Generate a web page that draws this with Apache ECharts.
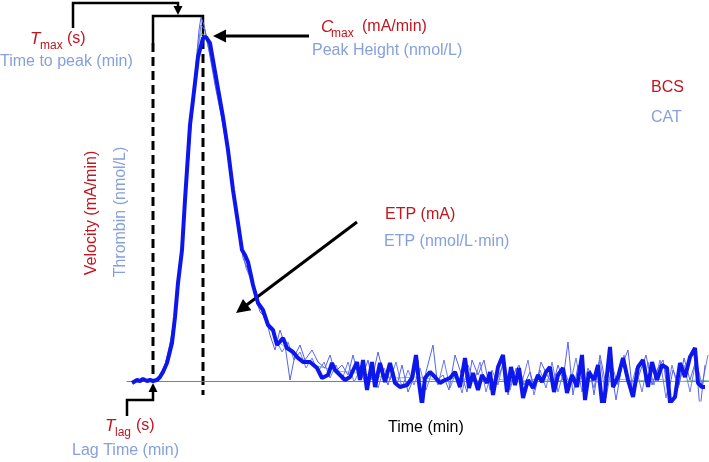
<!DOCTYPE html>
<html>
<head>
<meta charset="utf-8">
<script src="https://cdn.jsdelivr.net/npm/echarts@6/dist/echarts.min.js"></script>
<style>
  html, body { margin: 0; padding: 0; background: #fff; }
  #chart { width: 709px; height: 462px; }
</style>
</head>
<body>
<div id="chart"></div>
<script>
// x = sample index along the time axis, y = signal above baseline
const mainTrace = [
  [5, -2], [10, 1], [13, 0], [16, 2], [20, 0], [23, 1], [26, 0], [30, 1], [33, 4], [36, 9],
  [40, 18], [45, 38], [48, 64], [51, 98], [55, 131], [58, 181], [61, 226], [63, 256], [66, 281],
  [71, 324], [76, 343], [79, 344], [83, 338], [90, 298], [96, 264], [101, 231], [106, 191],
  [111, 158], [115, 131], [118, 126], [121, 119], [126, 96], [131, 78], [136, 71], [141, 56],
  [146, 51], [150, 36], [156, 43], [160, 33], [166, 29], [171, 23], [176, 19], [183, 19],
  [190, 13], [195, 3], [201, 6], [205, 18], [208, 11], [213, 6], [218, 1], [223, 4], [230, 19],
  [233, 1], [236, 21], [240, -9], [245, 19], [248, -6], [253, 18], [258, -1], [263, 18],
  [268, -2], [273, -6], [280, -4], [285, 3], [289, 26], [292, -2], [295, -24], [298, 3],
  [303, 9], [308, 4], [313, -2], [318, 1], [323, 3], [328, 9], [333, -6], [338, 23], [342, -7],
  [346, 8], [351, -9], [355, 6], [360, -2], [363, 9], [366, -14], [371, 14], [376, 26],
  [380, -11], [384, 14], [388, -4], [392, 13], [396, -17], [401, 1], [406, -7], [411, 6],
  [415, -1], [419, 9], [423, 14], [427, -11], [431, 6], [436, 13], [440, -12], [445, 6],
  [450, -6], [455, 26], [458, -19], [462, 9], [467, 1], [471, 16], [476, -31], [483, 34],
  [486, -6], [491, 4], [496, 23], [501, 1], [506, -16], [511, 14], [516, 21], [521, -6],
  [525, 19], [530, 1], [535, 16], [540, 13], [543, -22], [548, -16], [553, 18], [558, 4],
  [563, 24], [568, 33], [571, -2], [575, -6], [578, -6]
];
const runA = [
  [6, -1], [23, 0], [31, 3], [38, 16], [45, 46], [51, 91], [57, 161], [63, 241], [68, 306],
  [72, 351], [74, 364], [77, 356], [81, 336], [88, 296], [95, 261], [103, 216], [111, 161],
  [116, 123], [123, 106], [128, 86], [133, 69], [139, 63], [143, 46], [148, 31], [153, 51],
  [158, 36], [163, 1], [168, 26], [173, 36], [178, 21], [185, 31], [191, 19], [198, 13],
  [203, 26], [208, 9], [215, 16], [221, 6], [226, 26], [231, 6], [235, 3], [241, 21], [245, 1],
  [251, 29], [256, 9], [261, -4], [266, 13], [270, -4], [275, 16], [281, -11], [286, 1],
  [291, 21], [294, -14], [299, 9], [306, 36], [310, 1], [316, 6], [322, -9], [328, 26],
  [333, 11], [340, -11], [345, 21], [351, 6], [357, 21], [363, -9], [370, 1], [376, 16],
  [381, -14], [386, 6], [392, 16], [397, -4], [403, 9], [408, -9], [414, 19], [420, 6],
  [426, -4], [431, 16], [436, 1], [441, 39], [446, -14], [451, 16], [457, -4], [463, 11],
  [467, -14], [473, 26], [478, 1], [484, 13], [489, -19], [495, 16], [501, 31], [506, -14],
  [513, 9], [519, 26], [525, -4], [530, 11], [536, 21], [541, -14], [546, 11], [552, -4],
  [557, 23], [563, 1], [569, 21], [573, -29], [578, 16]
];
const runB = [
  [13, 0], [28, 1], [35, 7], [41, 26], [47, 61], [53, 116], [59, 196], [65, 271], [70, 326],
  [74, 356], [78, 351], [83, 326], [91, 286], [99, 241], [107, 186], [113, 146], [119, 113],
  [125, 99], [131, 81], [137, 63], [143, 56], [149, 41], [155, 29], [161, 39], [167, 21],
  [173, 29], [179, 13], [185, 23], [191, 9], [197, 19], [203, 3], [209, 16], [215, 1],
  [221, 19], [227, -1], [233, 11], [239, -4], [245, 16], [251, -7], [257, 13], [263, 1],
  [269, 19], [275, -7], [281, 11], [287, -4], [293, 13], [299, -9], [305, 9], [311, -4],
  [317, 21], [323, -7], [329, 9], [335, -12], [341, 16], [347, -1], [353, 19], [359, -11],
  [365, 11], [371, -4], [377, 23], [383, -9], [389, 13], [395, -1], [401, 21], [407, -14],
  [413, 11], [419, -7], [425, 19], [431, -11], [437, 11], [443, -4], [449, 23], [455, -11],
  [461, 13], [467, -7], [473, 21], [479, -17], [485, 16], [491, -4], [497, 26], [503, -9],
  [509, 13], [515, -11], [521, 19], [527, -4], [533, 21], [539, -17], [545, 16], [551, -7],
  [557, 16], [563, -11], [569, 21], [575, -4], [581, 26]
];
const runGreen = [
  [70, 330], [74, 348], [78, 345], [85, 320], null,
  [150, 40], [170, 25], [190, 15], [210, 10], [230, 8], [250, 5], [270, 3], [290, 4], [310, 1],
  [330, 3], [350, 0], [370, 2], [390, -1], [410, 2], [430, 0], [450, 3], [470, -1], [490, 2],
  [510, 0], [530, 2], [550, -1], [570, 1], [582, 0]
];
// annotation anchors on the time axis
const tLag = 26;
const tPeak = 76;

const RED = '#c1151f';
const LIGHT = '#86a0dc';
const FONT = '"Liberation Sans", Arial, sans-serif';

const chart = echarts.init(document.getElementById('chart'));
chart.setOption({
  animation: false,
  backgroundColor: '#fff',
  grid: { left: 127, right: 0, top: 16, bottom: 61 },
  xAxis: {
    type: 'value', min: 0, max: 582,
    axisLine: { onZero: true, lineStyle: { color: '#808080', width: 1 } },
    axisTick: { show: false }, axisLabel: { show: false }, splitLine: { show: false }
  },
  yAxis: {
    type: 'value', min: -20, max: 365, show: false, splitLine: { show: false }
  },
  series: [
    { type: 'line', data: runGreen, symbol: 'none', connectNulls: false,
      lineStyle: { color: '#7cc49a', width: 1 } },
    { type: 'line', data: runB, symbol: 'none', lineStyle: { color: '#6f7cec', width: 1 } },
    { type: 'line', data: runA, symbol: 'none', lineStyle: { color: '#5563ee', width: 1 } },
    { type: 'line', data: mainTrace, symbol: 'none', lineStyle: { color: '#0d17ec', width: 4 } }
  ]
});

const px = (t, v) => chart.convertToPixel({ gridIndex: 0 }, [t, v]);

function head(x, y, ang, len) {
  const bx = x - len * Math.cos(ang), by = y - len * Math.sin(ang);
  const w = len * 0.5;
  return {
    type: 'polygon',
    shape: { points: [[x, y], [bx - w * Math.sin(ang), by + w * Math.cos(ang)], [bx + w * Math.sin(ang), by - w * Math.cos(ang)]] },
    style: { fill: '#000' }
  };
}
function arrow(x1, y1, x2, y2, len, lw) {
  const a = Math.atan2(y2 - y1, x2 - x1);
  return [
    { type: 'line', shape: { x1, y1, x2: x2 - len * 0.8 * Math.cos(a), y2: y2 - len * 0.8 * Math.sin(a) },
      style: { stroke: '#000', lineWidth: lw } },
    head(x2, y2, a, len)
  ];
}
function bracket(pts, len) {
  const n = pts.length;
  const [x2, y2] = pts[n - 1], [x1, y1] = pts[n - 2];
  const a = Math.atan2(y2 - y1, x2 - x1);
  const line = pts.slice(0, n - 1).concat([[x2 - len * 0.8 * Math.cos(a), y2 - len * 0.8 * Math.sin(a)]]);
  return [
    { type: 'polyline', shape: { points: line }, style: { stroke: '#000', lineWidth: 2.5, fill: null } },
    head(x2, y2, a, len)
  ];
}
function txt(x, y, s, color, size, extra) {
  return Object.assign({
    type: 'text', x, y,
    style: { text: s, fill: color, font: size + 'px ' + FONT, align: 'left', verticalAlign: 'middle' }
  }, extra || {});
}
// italic symbol + subscript + unit, restX = where the unit starts relative to x
function sub(x, y, main, small, rest, restX, color) {
  return [
    txt(x, y, main, color, 17, { style: { text: main, fill: color, font: 'italic 17px ' + FONT, verticalAlign: 'middle' } }),
    txt(x + 10, y + 7, small, color, 12),
    txt(x + restX, y, rest, color, 16)
  ];
}

const lagX = px(tLag, 0)[0], peakX = px(tPeak, 0)[0];
const topY = px(tLag, 365)[1], baseY = px(tLag, 0)[1];
const dash = { stroke: '#000', lineWidth: 3, lineDash: [9, 5] };
const midX = (lagX + peakX) / 2;

const graphics = [
  { type: 'line', shape: { x1: lagX, y1: px(tLag, 338)[1], x2: lagX, y2: baseY }, style: dash },
  { type: 'line', shape: { x1: peakX, y1: px(tPeak, 341)[1], x2: peakX, y2: px(tPeak, -14)[1] }, style: dash },
  { type: 'polyline', shape: { points: [[lagX, px(tLag, 338)[1]], [lagX, topY], [peakX, topY], [peakX, px(tPeak, 345)[1]]] },
    style: { stroke: '#000', lineWidth: 2.5, fill: null } },
  ...bracket([[73, 28], [73, 3], [midX, 3], [midX, topY - 1]], 9),
  ...bracket([[127, 416], [127, 400], [lagX, 400], [lagX, baseY + 2]], 9),
  ...arrow(309, 36, 213, 36, 13, 3),
  ...arrow(357, 222, 236, 313, 14, 3),

  ...sub(30, 39, 'T', 'max', '(s)', 37, RED),
  txt(0, 62, 'Time to peak (min)', LIGHT, 16),
  ...sub(321, 27, 'C', 'max', '(mA/min)', 41, RED),
  txt(312, 51, 'Peak Height (nmol/L)', LIGHT, 16),
  txt(651, 88, 'BCS', RED, 16),
  txt(651, 118, 'CAT', LIGHT, 16),
  txt(385, 215, 'ETP (mA)', RED, 16),
  txt(384, 242, 'ETP (nmol/L\u00b7min)', LIGHT, 16),
  txt(92, 213, 'Velocity (mA/min)', RED, 16, { rotation: Math.PI / 2, style: { text: 'Velocity (mA/min)', fill: RED, font: '16px ' + FONT, align: 'center', verticalAlign: 'middle' } }),
  txt(121, 212, 'Thrombin (nmol/L)', LIGHT, 16, { rotation: Math.PI / 2, style: { text: 'Thrombin (nmol/L)', fill: LIGHT, font: '16px ' + FONT, align: 'center', verticalAlign: 'middle' } }),
  ...sub(105, 426, 'T', 'lag', '(s)', 31, RED),
  txt(72, 451, 'Lag Time (min)', LIGHT, 16),
  txt(388, 428, 'Time (min)', '#000', 16)
];
chart.setOption({ graphic: graphics });
</script>
</body>
</html>
